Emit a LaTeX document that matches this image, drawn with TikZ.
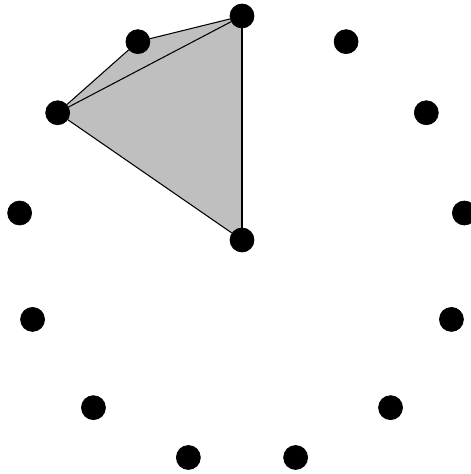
\documentclass[tikz,border=0pt]{standalone}
\usetikzlibrary{backgrounds}

\tikzset{
    vertex/.style={draw, circle, fill=black, minimum size=0.48cm, inner sep=0pt},
    edge/.style={line width=0.6pt}
}

\begin{document}
\begin{tikzpicture}
    \useasboundingbox (-4.84,-4.68) rectangle (4.56,4.80);

    % Sommets sur le cercle
    \node[vertex] (v0) at (90:4.48) {};
    \node[vertex] (v1) at (62.31:4.48) {};
    \node[vertex] (v2) at (34.62:4.48) {};
    \node[vertex] (v3) at (6.92:4.48) {};
    \node[vertex] (v4) at (-20.77:4.48) {};
    \node[vertex] (v5) at (-48.46:4.48) {};
    \node[vertex] (v6) at (-76.15:4.48) {};
    \node[vertex] (v7) at (-103.85:4.48) {};
    \node[vertex] (v8) at (-131.54:4.48) {};
    \node[vertex] (v9) at (-159.23:4.48) {};
    \node[vertex] (v10) at (173.08:4.48) {};
    \node[vertex] (v11) at (145.38:4.48) {};
    \node[vertex] (v12) at (117.69:4.48) {};

    % Centre
    \node[vertex] (c) at (0,0) {};

    % Region grisee
    \begin{scope}[on background layer]
        \fill[black!25] (v0.center) -- (v12.center) -- (v11.center) -- (c.center) -- cycle;
    \end{scope}

    % Aretes
    \draw[edge] (v0) -- (v12);
    \draw[edge] (v12) -- (v11);
    \draw[edge] (v11) -- (v0);
    \draw[edge] (v0) -- (c);
    \draw[edge] (v11) -- (c);
\end{tikzpicture}
\end{document}
